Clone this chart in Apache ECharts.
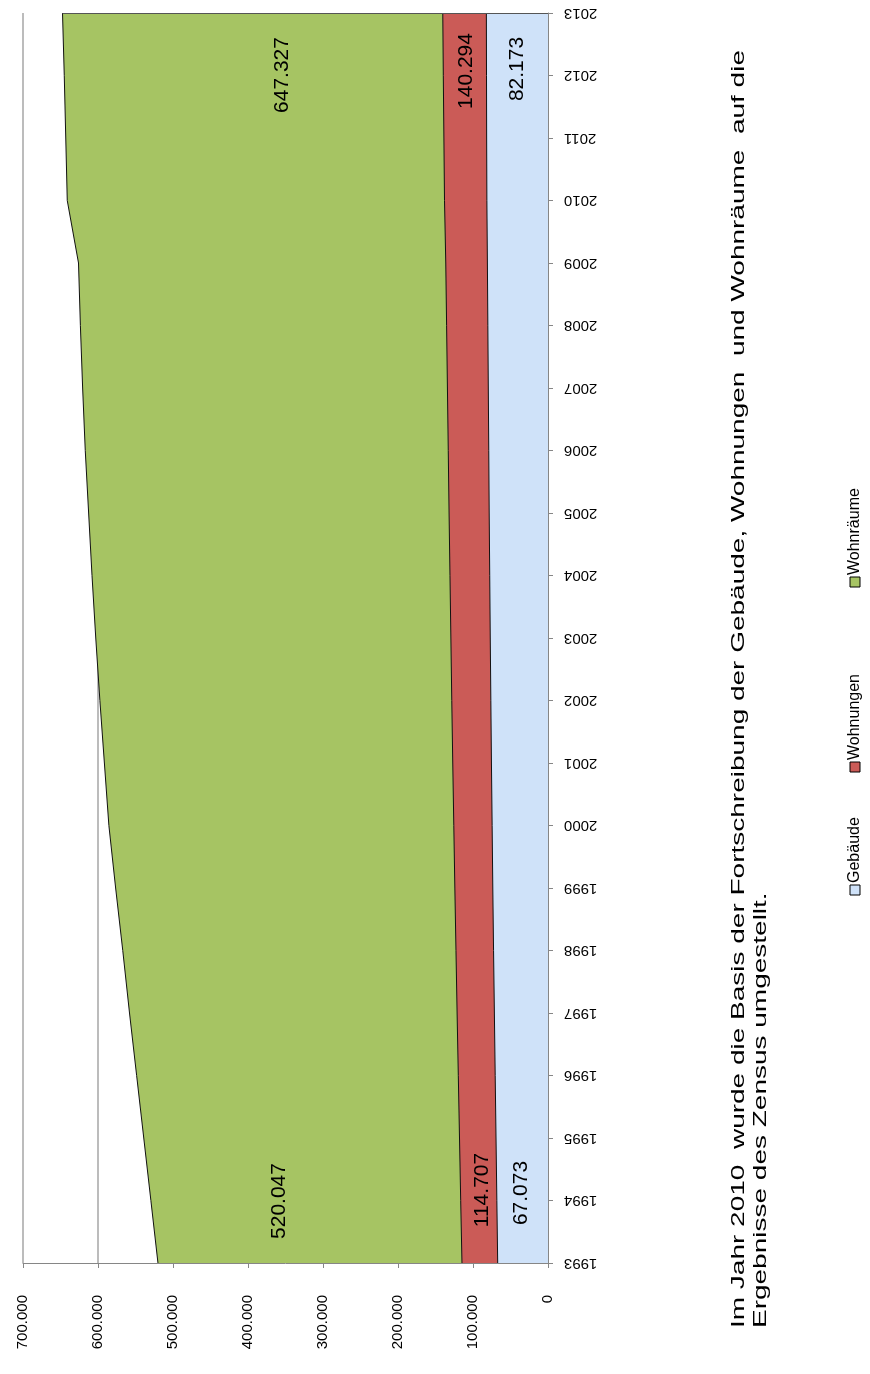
<!DOCTYPE html>
<html>
<head>
<meta charset="utf-8">
<script src="https://cdn.jsdelivr.net/npm/echarts@6/dist/echarts.min.js"></script>
<style>
html, body { margin: 0; padding: 0; background: #fff; }
#chart { width: 870px; height: 1374px; }
</style>
</head>
<body>
<div id="chart"></div>
<script>
// Jahre (Kategorieachse)
var years = ['1993', '1994', '1995', '1996', '1997', '1998', '1999', '2000', '2001', '2002', '2003',
    '2004', '2005', '2006', '2007', '2008', '2009', '2010', '2011', '2012', '2013'];

// Bestand
var gebaeude = [67073, 68200, 69300, 70400, 71500, 72600, 73600, 74500, 75400, 76200, 77000,
    77700, 78400, 79000, 79600, 80200, 80800, 81500, 81800, 82000, 82173];
var wohnungen = [114707, 116400, 118000, 119600, 121200, 122700, 124200, 125600, 127000, 128300, 129500,
    130700, 131900, 133000, 134100, 135200, 136300, 138000, 138800, 139600, 140294];
var wohnraeume = [520047, 529500, 539000, 548500, 558000, 567000, 576500, 585500, 591500, 597500, 603000,
    608000, 612500, 617000, 620500, 623500, 626000, 641000, 643000, 645000, 647327];

var seriesNames = ['Gebäude', 'Wohnungen', 'Wohnräume'];
var footnote = ['Im Jahr 2010  wurde die Basis der Fortschreibung der Gebäude, Wohnungen  und Wohnräume  auf die',
    'Ergebnisse des Zensus umgestellt.'];

var colors = ['#cfe2f9', '#cb5b57', '#a6c463'];
var font = "'Liberation Sans', Arial, sans-serif";

function fmt(v) {
    return String(Math.round(v)).replace(/\B(?=(\d{3})+(?!\d))/g, '.');
}

// Label ist um 90 Grad gedreht, also Verschiebung (dx, dy) auf dem Bild -> [-dy, dx]
function rotOffset(dx, dy) {
    return [-dy, dx];
}

// nur erster und letzter Wert bekommen ein Label
function withEndLabels(values, offFirst, offLast) {
    var last = values.length - 1;
    return values.map(function(v, i) {
        if (i === 0) return { value: v, label: { show: true, offset: offFirst } };
        if (i === last) return { value: v, label: { show: true, offset: offLast } };
        return v;
    });
}

function areaSeries(name, values, color, offFirst, offLast) {
    return {
        name: name,
        type: 'line',
        data: withEndLabels(values, offFirst, offLast),
        symbol: 'circle',
        symbolSize: 2,
        itemStyle: { color: 'rgba(0,0,0,0)', borderWidth: 0 },
        lineStyle: { color: '#111', width: 1 },
        areaStyle: { color: color, opacity: 1 },
        label: {
            show: false,
            position: 'inside',
            rotate: 90,
            color: '#000',
            fontFamily: font,
            fontSize: 21,
            formatter: function(p) { return fmt(p.value); }
        },
        emphasis: { disabled: true },
        silent: true,
        animation: false
    };
}

var dom = document.getElementById('chart');
var myChart = echarts.init(dom);

// Legende gedreht, wie im Original
var legendItems = [];
var legendPos = [0, 123, 308];
for (var i = 0; i < seriesNames.length; i++) {
    legendItems.push({
        type: 'rect',
        shape: { x: legendPos[i], y: 0, width: 10, height: 10 },
        style: { fill: colors[i], stroke: '#000', lineWidth: 1 }
    });
    legendItems.push({
        type: 'text',
        x: legendPos[i] + 12,
        y: 5,
        style: { text: seriesNames[i], fontFamily: font, fontSize: 16, fill: '#000', align: 'left', verticalAlign: 'middle' }
    });
}

var option = {
    backgroundColor: '#fff',
    animation: false,
    grid: {
        left: 23,
        right: 322,
        top: 13,
        bottom: 111,
        outerBoundsMode: 'none'
    },
    xAxis: {
        type: 'value',
        inverse: true,
        min: 0,
        max: 700000,
        interval: 100000,
        axisLine: { show: true, lineStyle: { color: '#868686', width: 1 } },
        axisTick: { show: true, length: 5, lineStyle: { color: '#868686' } },
        axisLabel: {
            rotate: 90,
            margin: 32,
            color: '#000',
            fontFamily: font,
            fontSize: 15,
            formatter: function(v) { return fmt(v); }
        },
        splitLine: { show: true, lineStyle: { color: '#a6a6a6', width: 1.5 } }
    },
    yAxis: {
        type: 'category',
        position: 'right',
        data: years,
        boundaryGap: false,
        axisLine: { show: true, lineStyle: { color: '#868686', width: 1 } },
        axisTick: { show: true, length: 5, lineStyle: { color: '#868686' } },
        axisLabel: {
            rotate: 180,
            margin: 16,
            color: '#000',
            fontFamily: font,
            fontSize: 15
        },
        splitLine: { show: false }
    },
    series: [
        Object.assign(areaSeries(seriesNames[2], wohnraeume, colors[2], rotOffset(121, -62), rotOffset(220, 62)), {
            markLine: {
                silent: true,
                symbol: 'none',
                label: { show: false },
                lineStyle: { color: '#555', width: 1, type: 'solid' },
                data: [[
                    { coord: [0, years[years.length - 1]] },
                    { coord: [wohnraeume[wohnraeume.length - 1], years[years.length - 1]] }
                ]]
            }
        }),
        areaSeries(seriesNames[1], wohnungen, colors[1], rotOffset(20, -73), rotOffset(23, 58)),
        areaSeries(seriesNames[0], gebaeude, colors[0], rotOffset(24, -70), rotOffset(31, 56))
    ],
    graphic: [
        {
            type: 'text',
            x: 728,
            y: 1328,
            rotation: Math.PI / 2,
            scaleX: 1.555,
            style: {
                text: footnote.join('\n'),
                fontFamily: font,
                fontSize: 18,
                lineHeight: 22,
                fill: '#000',
                align: 'left',
                verticalAlign: 'top'
            }
        },
        {
            type: 'group',
            x: 850,
            y: 895,
            rotation: Math.PI / 2,
            children: legendItems
        }
    ]
};

if (option && typeof option === "object") {
    myChart.setOption(option, true);
}
</script>
</body>
</html>
